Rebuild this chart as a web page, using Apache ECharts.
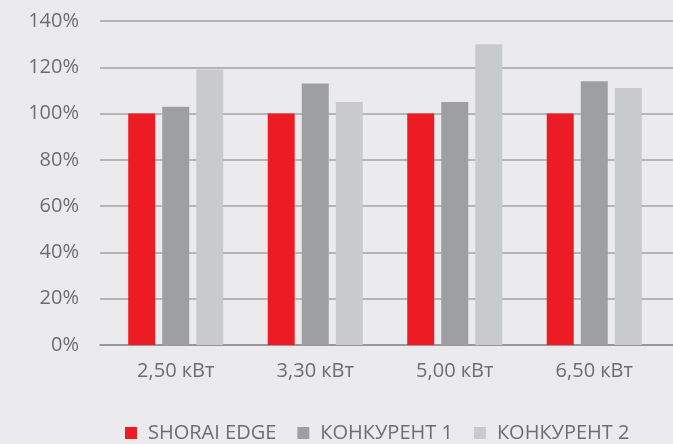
<!DOCTYPE html>
<html>
<head>
<meta charset="utf-8">
<script src="https://cdn.jsdelivr.net/npm/echarts@6/dist/echarts.min.js"></script>
<style>
  html, body { margin: 0; padding: 0; background: #ebebed; }
  #chart { width: 673px; height: 444px; }
</style>
</head>
<body>
<div id="chart"></div>
<script>
// Relative efficiency by unit capacity
const categories = ['2,50 кВт', '3,30 кВт', '5,00 кВт', '6,50 кВт'];
const seriesNames = ['SHORAI EDGE', 'КОНКУРЕНТ 1', 'КОНКУРЕНТ 2'];
const shoraiEdge = [100, 100, 100, 100];
const competitor1 = [103, 113, 105, 114];
const competitor2 = [119, 105, 130, 111];
const seriesColors = ['#ed1c24', '#9e9fa2', '#c9cacd'];
const yTicks = { min: 0, max: 140, interval: 20 };

const textColor = '#6e6e70';
const font = 'Open Sans, Segoe UI, sans-serif';

const chart = echarts.init(document.getElementById('chart'), null, { renderer: 'canvas' });

const values = [shoraiEdge, competitor1, competitor2];

chart.setOption({
  backgroundColor: '#ebebed',
  animation: false,
  textStyle: { fontFamily: font },
  legend: {
    data: seriesNames,
    left: 120,
    top: 418,
    icon: 'rect',
    itemWidth: 12,
    itemHeight: 12,
    itemGap: 21,
    textStyle: { color: textColor, fontSize: 20, fontFamily: font, padding: [0, 0, 0, 6] }
  },
  grid: [
    // frame grid: split lines and axis line across the full plot width
    { left: 100, right: 0, top: 21, bottom: 99, containLabel: false },
    // bar grid
    { left: 106, right: 9, top: 21, bottom: 99, containLabel: false }
  ],
  xAxis: [
    {
      type: 'category', gridIndex: 0, data: categories,
      axisLine: { show: true, lineStyle: { color: '#8f8f91', width: 1.5 } },
      axisTick: { show: false }, axisLabel: { show: false }
    },
    {
      type: 'category', gridIndex: 1, data: categories,
      axisLine: { show: false }, axisTick: { show: false },
      axisLabel: { color: textColor, fontSize: 20, margin: 16, fontFamily: font }
    }
  ],
  yAxis: [
    {
      type: 'value', gridIndex: 0,
      min: yTicks.min, max: yTicks.max, interval: yTicks.interval,
      axisLine: { show: false }, axisTick: { show: false },
      splitLine: { lineStyle: { color: '#a3a3a5', width: 1.5 } },
      axisLabel: { color: textColor, fontSize: 20, margin: 21, fontFamily: font, formatter: '{value}%' }
    },
    {
      type: 'value', gridIndex: 1,
      min: yTicks.min, max: yTicks.max, interval: yTicks.interval,
      show: false, splitLine: { show: false }
    }
  ],
  series: seriesNames.map((name, i) => ({
    name,
    type: 'bar',
    xAxisIndex: 1,
    yAxisIndex: 1,
    data: values[i],
    barWidth: 27,
    barGap: '26%',
    itemStyle: { color: seriesColors[i] }
  }))
});
</script>
</body>
</html>
